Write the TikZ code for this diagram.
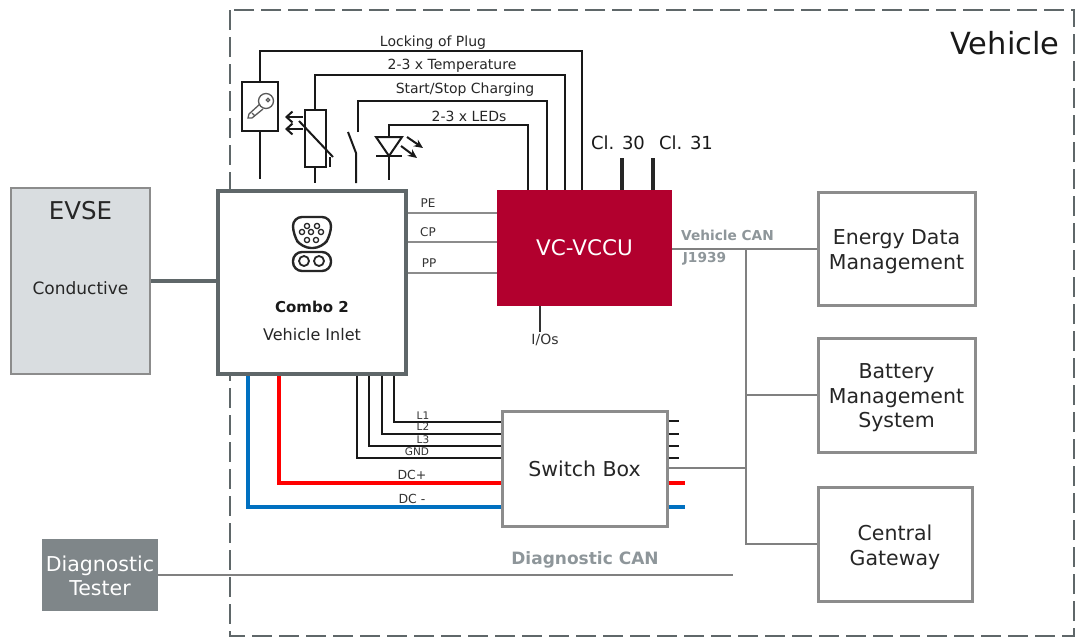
\documentclass[tikz,border=0pt]{standalone}
\usepackage{fontspec}
\setmainfont{DejaVu Sans}
\usetikzlibrary{arrows.meta}
\usepackage{xcolor}
\definecolor{myred}{HTML}{B2002E}
\definecolor{mygray}{HTML}{8C8C8C}
\definecolor{darkgray}{HTML}{5F6769}
\definecolor{lightgray}{HTML}{D9DDE0}
\definecolor{testergray}{HTML}{7F8689}
\definecolor{labelgray}{HTML}{8E969A}
\definecolor{dcred}{HTML}{FF0000}
\definecolor{dcblue}{HTML}{0070C0}
\newcommand{\fs}[1]{\fontsize{#1}{#1pt}\selectfont}

\begin{document}
\begin{tikzpicture}
  [x=1pt, y=-1pt,
   box/.style={draw=mygray, line width=3pt, fill=white, inner sep=0pt},
   boxtext/.style={inner sep=0pt, align=center, font=\fs{20.5}, text=black!85},
   evse/.style={draw=mygray, line width=1.2pt, fill=lightgray, inner sep=0pt},
   inlet/.style={draw=darkgray, line width=3.6pt, fill=white, inner sep=0pt},
   ecu/.style={fill=myred, inner sep=0pt, text=white, font=\fs{21.5}},
   tester/.style={fill=testergray, inner sep=0pt, align=center, text=white, font=\fs{20.5}},
   vehicle/.style={draw=darkgray, line width=2.4pt, dash pattern=on 20pt off 7pt},
   wire/.style={line width=2pt, black!90},
   thin wire/.style={line width=1.3pt, black!90},
   signal/.style={line width=1.3pt, mygray},
   can/.style={line width=1.3pt, gray},
   symb/.style={line width=2pt, black!90},
   tiny/.style={inner sep=0pt, font=\fs{11}, text=black!80},
   small/.style={inner sep=0pt, font=\fs{14}, text=black!85},
   big/.style={inner sep=0pt, font=\fs{18}, text=black!90},
   canlabel/.style={inner sep=0pt, font=\bfseries\fs{13.7}, text=labelgray},
  ]
  \useasboundingbox (0,0) rectangle (1076,637);

  \draw[vehicle] (230,10) rectangle (1074,636);
  \node[big, font=\fs{30.5}] (vehicletext) at (1005,43) {Vehicle};

  \node[evse, minimum width=139pt, minimum height=186pt] (evse) at (80.5,281) {};
  \node[inner sep=0pt, font=\fs{24.5}, text=black!85] (evsetext) at (80.5,211) {EVSE};
  \node[inner sep=0pt, font=\fs{17}, text=black!85] (conductive) at (80.5,288) {Conductive};

  \node[inlet, minimum width=188pt, minimum height=183pt] (inlet) at (312,282.5) {};
  \node[inner sep=0pt, font=\bfseries\fs{15}, text=black!90] (combo) at (312,307) {Combo 2};
  \node[inner sep=0pt, font=\fs{16}, text=black!85] (inlettext) at (312,335) {Vehicle Inlet};
  \draw[line width=3.6pt, darkgray] (evse.east) -- (inlet.west |- evse.east);

  \node[ecu, minimum width=175pt, minimum height=116pt] (vccu) at (584.5,248) {VC-VCCU};
  \node[box, minimum width=165pt, minimum height=115pt] (switch) at (584.5,468.5) {};
  \node[box, minimum width=157pt, minimum height=113pt] (energy) at (896.5,248.5) {};
  \node[box, minimum width=157pt, minimum height=114pt] (battery) at (896.5,395) {};
  \node[box, minimum width=154pt, minimum height=114pt] (gateway) at (895,544.5) {};
  \node[boxtext] (switchtext) at (switch) {Switch Box};
  \node[boxtext] (energytext) at (896.5,251.5) {Energy Data\\[4pt]Management};
  \node[boxtext] (batterytext) at (896.5,398) {Battery\\[4pt]Management\\[4pt]System};
  \node[boxtext] (gatewaytext) at (895,547.5) {Central\\[4pt]Gateway};
  \node[tester, minimum width=116pt, minimum height=72pt] (tester) at (100,575) {};
  \node[boxtext, text=white] (testertext) at (100,576) {Diagnostic\\[3pt]Tester};

  % sensors above the inlet
  \node[draw=black!90, line width=2pt, minimum width=36pt, minimum height=49pt, inner sep=0pt] (keybox) at (260,106.5) {};
  \node[draw=black!90, line width=2pt, minimum width=21pt, minimum height=57pt, inner sep=0pt] (therm) at (315,138.5) {};
  \coordinate (keyfoot) at (260,179);
  \coordinate (thermfoot) at (315,183);
  \coordinate (switchfoot) at (356,183);
  \coordinate (switchpivot) at (356,153);
  \coordinate (switchblade) at (348,132);
  \coordinate (switchtop) at (358,132);
  \coordinate (ledtop) at (389,137);
  \coordinate (ledfoot) at (389,180);

  \draw[wire] (keybox.north) -- ++(0,-30) -| (582,190);
  \draw[wire] (therm.north) -- ++(0,-34) -| (565,190);
  \draw[wire] (switchtop) -- ++(0,-31) -| (547,190);
  \draw[wire] (ledtop) -- ++(0,-12) -| (528,190);
  \draw[wire] (keybox.south) -- (keyfoot);
  \draw[wire] (therm.south) -- (thermfoot);
  \draw[wire] (switchfoot) -- (switchpivot) -- (switchblade);
  \draw[symb] (299,121) -- (333,157);
  \draw[symb] (330,157) -- (330,167);
  \draw[symb, -{Straight Barb[length=6pt,width=11pt]}] (303,117) -- (285,117);
  \draw[symb, -{Straight Barb[length=6pt,width=11pt]}] (303,129) -- (285,129);
  \draw[symb] (ledtop) -- (402,137) -- (389,156) -- (376,137) -- cycle;
  \draw[symb] (376,156) -- (402,156);
  \draw[symb] (389,156) -- (ledfoot);
  \draw[symb, -{Stealth[length=9pt,width=8pt]}] (407,137) -- (423,148);
  \draw[symb, -{Stealth[length=9pt,width=8pt]}] (401,146) -- (417,158);

  % key
  \draw[line width=1.3pt, black!65] (266,101) circle (7.5pt);
  \draw[line width=1.3pt, black!65] (268,100) circle (1.8pt);
  \draw[line width=1.3pt, black!65] (263,109) -- (252,118) -- (248,118) -- (249,114) -- (260,104);
  \draw[line width=1.2pt, black!65] (252,113) -- (255,116);

  % connector face
  \draw[line width=2.4pt, black!85, rounded corners=9pt] (293,217) -- (331,217) -- (331,235) -- (322,248) -- (302,248) -- (293,235) -- cycle;
  \draw[line width=2.4pt, black!85, rounded corners=9pt] (293,252) rectangle (331,271);
  \foreach \px/\py in {307/226, 317/226, 302/232, 311/232, 321/232, 307/240, 316/240}
    \draw[line width=1.3pt, black!85] (\px,\py) circle (2.6pt);
  \foreach \px in {304, 319}
    \draw[line width=1.8pt, black!85] (\px,261) circle (5pt);

  % signal lines
  \coordinate (peend) at (vccu.west |- 0,213);
  \coordinate (cpend) at (vccu.west |- 0,242);
  \coordinate (ppend) at (vccu.west |- 0,273);
  \path[signal] (inlet.east |- peend) edge (peend)
        (inlet.east |- cpend) edge (cpend)
        (inlet.east |- ppend) edge (ppend);
  \node[tiny, font=\fs{12}] (pe) at (428,203) {PE};
  \node[tiny, font=\fs{12}] (cp) at (428,232) {CP};
  \node[tiny, font=\fs{12}] (pp) at (429,263) {PP};

  \coordinate (iosend) at (540,332);
  \draw[line width=1.3pt, black!80] (vccu.south -| iosend) -- (iosend);
  \node[tiny, font=\fs{14}] (ios) at (545,340) {I/Os};

  \coordinate (clthirty) at (622,158);
  \coordinate (clthirtyone) at (653,158);
  \draw[line width=3.6pt, black!85] (vccu.north -| clthirty) -- (clthirty);
  \draw[line width=3.6pt, black!85] (vccu.north -| clthirtyone) -- (clthirtyone);
  \node[big] (clthirtytext) at (618,143) {Cl. 30};
  \node[big] (clthirtyonetext) at (686,143) {Cl. 31};

  \node[small] (locktext) at (433,43) {Locking of Plug};
  \node[small] (temptext) at (452,66) {2-3 x Temperature};
  \node[small] (starttext) at (465,90) {Start/Stop Charging};
  \node[small] (ledtext) at (469,116) {2-3 x LEDs};

  % lines under the inlet
  \draw[thin wire] (inlet.south -| 394,0) |- (switch.west |- 0,422);
  \draw[thin wire] (inlet.south -| 382,0) |- (switch.west |- 0,434);
  \draw[thin wire] (inlet.south -| 369,0) |- (switch.west |- 0,446);
  \draw[thin wire] (inlet.south -| 357,0) |- (switch.west |- 0,458);
  \draw[line width=3.4pt, dcred] (inlet.south -| 279,0) |- (switch.west |- 0,483);
  \draw[line width=3.4pt, dcblue] (inlet.south -| 248,0) |- (switch.west |- 0,507);
  \draw[line width=3.4pt, dcred] (switch.east |- 0,483) -- (685,483);
  \draw[line width=3.4pt, dcblue] (switch.east |- 0,507) -- (685,507);
  \foreach \ly in {421, 434, 446, 458}
    \draw[thin wire] (switch.east |- 0,\ly) -- (679,\ly);

  \node[tiny, font=\fs{10.5}] (lone) at (423,416) {L1};
  \node[tiny, font=\fs{10.5}] (ltwo) at (423,427) {L2};
  \node[tiny, font=\fs{10.5}] (lthree) at (423,439.5) {L3};
  \node[tiny, font=\fs{10.5}] (gnd) at (417,452) {GND};
  \node[tiny, font=\fs{12.5}] (dcplus) at (412,475) {DC+};
  \node[tiny, font=\fs{12.5}] (dcminus) at (412,499) {DC -};

  % CAN
  \coordinate (canjoin) at (746,249);
  \coordinate (canbat) at (746,395);
  \coordinate (cansw) at (746,468);
  \coordinate (cangw) at (746,544);
  \draw[can] (vccu.east |- canjoin) -- (energy.west |- canjoin);
  \draw[can] (canjoin) -- (cangw) -- (gateway.west |- cangw);
  \draw[can] (canbat) -- (battery.west |- canbat);
  \draw[can] (switch.east |- cansw) -- (cansw);
  \node[canlabel] (vehiclecan) at (727.5,235) {Vehicle CAN};
  \node[canlabel] (jtext) at (704.5,259) {J1939};

  \coordinate (diagend) at (733,575);
  \draw[can] (tester.east) -- (diagend);
  \node[canlabel, font=\bfseries\fs{17}] (diagcan) at (585,560) {Diagnostic CAN};

\end{tikzpicture}
\end{document}
